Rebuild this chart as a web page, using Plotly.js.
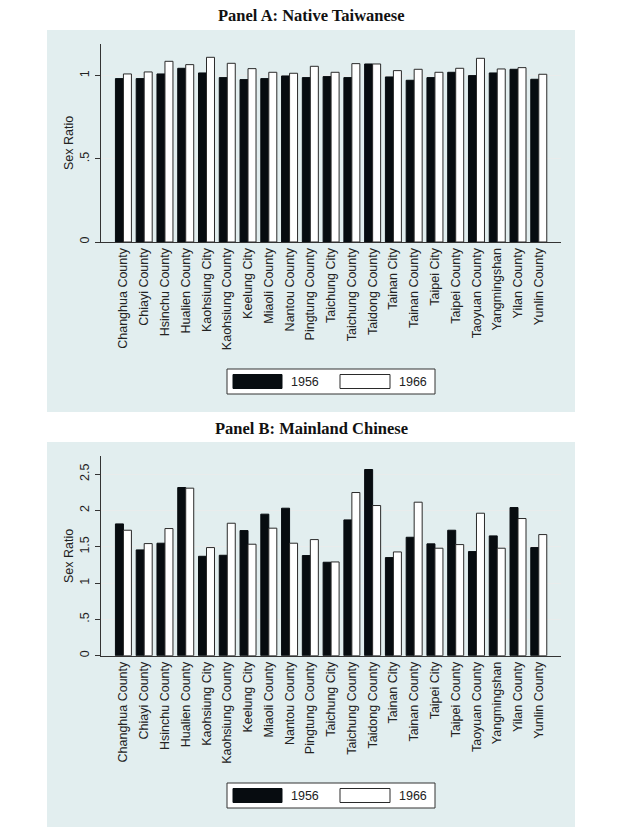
<!DOCTYPE html>
<html>
<head>
<meta charset="utf-8">
<script src="https://cdn.plot.ly/plotly-3.0.1.min.js"></script>
<style>
  html, body { margin: 0; padding: 0; background: #ffffff; }
  #chart { width: 640px; height: 836px; }
</style>
</head>
<body>
<div id="chart"></div>
<script>
// ---- data ----
const categories = [
  "Changhua County", "Chiayi County", "Hsinchu County", "Hualien County",
  "Kaohsiung City", "Kaohsiung County", "Keelung City", "Miaoli County",
  "Nantou County", "Pingtung County", "Taichung City", "Taichung County",
  "Taidong County", "Tainan City", "Tainan County", "Taipei City",
  "Taipei County", "Taoyuan County", "Yangmingshan", "Yilan County",
  "Yunlin County"
];
const seriesNames = ["1956", "1966"];
const panelTitles = ["Panel A: Native Taiwanese", "Panel B: Mainland Chinese"];
const yAxisLabel = "Sex Ratio";

const native1956 = [0.982, 0.982, 1.010, 1.044, 1.016, 0.988, 0.976, 0.982, 0.998, 0.988, 0.994,
                    0.988, 1.070, 0.992, 0.972, 0.988, 1.020, 1.000, 1.016, 1.038, 0.978];
const native1966 = [1.010, 1.022, 1.086, 1.066, 1.110, 1.074, 1.042, 1.020, 1.014, 1.056, 1.020,
                    1.072, 1.070, 1.030, 1.038, 1.020, 1.044, 1.104, 1.040, 1.048, 1.008];
const mainland1956 = [1.815, 1.457, 1.549, 2.316, 1.369, 1.383, 1.723, 1.949, 2.031, 1.379, 1.287,
                      1.870, 2.564, 1.351, 1.631, 1.540, 1.728, 1.434, 1.650, 2.040, 1.489];
const mainland1966 = [1.728, 1.544, 1.751, 2.307, 1.489, 1.824, 1.535, 1.756, 1.549, 1.599, 1.291,
                      2.247, 2.068, 1.429, 2.114, 1.480, 1.530, 1.962, 1.480, 1.889, 1.668];

const ticksA = [0, 0.5, 1];
const ticksB = [0, 0.5, 1, 1.5, 2, 2.5];
const tickTextA = ["0", ".5", "1"];
const tickTextB = ["0", ".5", "1", "1.5", "2", "2.5"];

// ---- styling ----
const W = 640, H = 836;
const px = v => v / W;          // pixel -> paper x
const py = v => 1 - v / H;      // pixel -> paper y
const panelBg = "#e2eeef";
const darkFill = "#070c10";
const textCol = "#222222";
const sans = "Liberation Sans, Arial, sans-serif";
const serif = "Liberation Serif, Times New Roman, serif";

function barTrace(y, name, dark, xa, ya) {
  return {
    type: "bar", x: categories, y: y, name: name,
    xaxis: xa, yaxis: ya, showlegend: false,
    marker: {
      color: dark ? darkFill : "#ffffff",
      line: { color: dark ? darkFill : "#2a2a2a", width: 1 }
    },
    hoverinfo: "x+y+name"
  };
}

const data = [
  barTrace(native1956, seriesNames[0], true, "x", "y"),
  barTrace(native1966, seriesNames[1], false, "x", "y"),
  barTrace(mainland1956, seriesNames[0], true, "x2", "y2"),
  barTrace(mainland1966, seriesNames[1], false, "x2", "y2")
];

function xAxis(anchor) {
  return {
    domain: [px(101), px(561)], anchor: anchor,
    type: "category", range: [-1.08, 21.07],
    showline: true, linecolor: "#333", linewidth: 1,
    ticks: "", tickangle: -90,
    tickfont: { family: sans, size: 12.5, color: textCol },
    showgrid: false, zeroline: false, fixedrange: true
  };
}
function yAxis(anchor, dom, range, vals, text) {
  return {
    domain: dom, anchor: anchor, range: range,
    tickmode: "array", tickvals: vals, ticktext: text, tickangle: -90,
    ticks: "outside", ticklen: 5, tickcolor: "#333", ticklabelstandoff: 1,
    showline: true, linecolor: "#333", linewidth: 1,
    showgrid: true, gridcolor: "#e9ecec", gridwidth: 1,
    zeroline: false,
    tickfont: { family: sans, size: 12.5, color: textCol },
    fixedrange: true
  };
}

function legendBox(top) {
  const s = [];
  s.push({ type: "rect", xref: "paper", yref: "paper",
    x0: px(227), x1: px(435), y0: py(top + 25), y1: py(top),
    fillcolor: "#ffffff", line: { color: "#333", width: 1 }, layer: "above" });
  s.push({ type: "rect", xref: "paper", yref: "paper",
    x0: px(233), x1: px(282), y0: py(top + 19.5), y1: py(top + 5.5),
    fillcolor: darkFill, line: { color: darkFill, width: 1 }, layer: "above" });
  s.push({ type: "rect", xref: "paper", yref: "paper",
    x0: px(340), x1: px(390), y0: py(top + 19.5), y1: py(top + 5.5),
    fillcolor: "#ffffff", line: { color: "#2a2a2a", width: 1 }, layer: "above" });
  return s;
}
function legendText(top) {
  return [
    { xref: "paper", yref: "paper", x: px(289), y: py(top + 12.5), xanchor: "left", yanchor: "middle",
      text: seriesNames[0], showarrow: false, font: { family: sans, size: 12.5, color: textCol } },
    { xref: "paper", yref: "paper", x: px(397), y: py(top + 12.5), xanchor: "left", yanchor: "middle",
      text: seriesNames[1], showarrow: false, font: { family: sans, size: 12.5, color: textCol } }
  ];
}
function yTitle(centerY) {
  return { xref: "paper", yref: "paper", x: px(69), y: py(centerY), xanchor: "center", yanchor: "middle",
    text: yAxisLabel, textangle: -90, showarrow: false,
    font: { family: sans, size: 12.5, color: textCol } };
}

const shapes = [
  { type: "rect", xref: "paper", yref: "paper", x0: px(47), x1: px(575), y0: py(412), y1: py(30),
    fillcolor: panelBg, line: { width: 0 }, layer: "below" },
  { type: "rect", xref: "paper", yref: "paper", x0: px(47), x1: px(575), y0: py(827), y1: py(442),
    fillcolor: panelBg, line: { width: 0 }, layer: "below" }
].concat(legendBox(369), legendBox(783));

const annotations = [
  { xref: "paper", yref: "paper", x: px(311), y: py(16), xanchor: "center", yanchor: "middle",
    text: "<b>" + panelTitles[0] + "</b>", showarrow: false,
    font: { family: serif, size: 16.5, color: "#111" } },
  { xref: "paper", yref: "paper", x: px(311), y: py(428), xanchor: "center", yanchor: "middle",
    text: "<b>" + panelTitles[1] + "</b>", showarrow: false,
    font: { family: serif, size: 16.5, color: "#111" } },
  yTitle(143), yTitle(556)
].concat(legendText(369), legendText(783));

const layout = {
  width: W, height: H,
  margin: { l: 0, r: 0, t: 0, b: 0 },
  paper_bgcolor: "#ffffff", plot_bgcolor: "#ffffff",
  barmode: "group", bargap: 0.23, bargroupgap: 0,
  showlegend: false,
  xaxis: xAxis("y"),
  yaxis: yAxis("x", [py(242), py(44)], [0, 1.19], ticksA, tickTextA),
  xaxis2: xAxis("y2"),
  yaxis2: yAxis("x2", [py(655.7), py(456)], [0, 2.75], ticksB, tickTextB),
  shapes: shapes,
  annotations: annotations
};

Plotly.newPlot("chart", data, layout, { displayModeBar: false, staticPlot: true });
</script>
</body>
</html>
